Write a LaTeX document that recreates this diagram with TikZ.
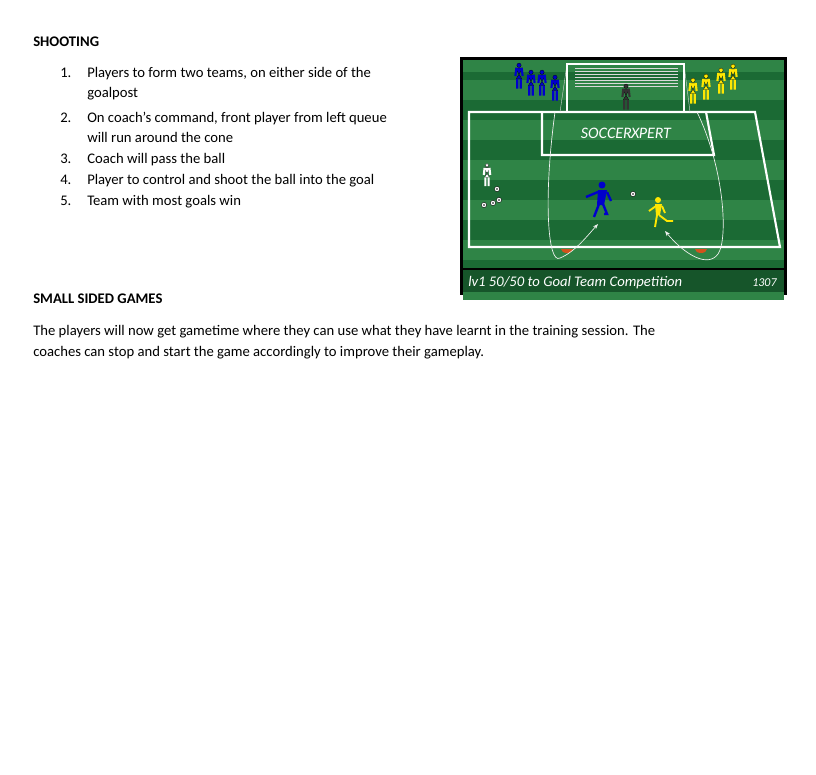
\documentclass[tikz,border=0pt]{standalone}
\usepackage{fontspec}
\setmainfont{Carlito}
\usetikzlibrary{arrows.meta}
\definecolor{gdark}{HTML}{1B6A34}
\definecolor{glight}{HTML}{2F8446}
\definecolor{cone}{HTML}{D2531C}
\newcommand{\plr}[4]{% x y color scale
\begin{scope}[shift={(#1,#2)},scale=#4]
\fill[#3,draw=black,line width=0.2pt] (0,-2) circle (2.4);
\fill[#3,draw=black,line width=0.2pt] (-4,1) -- (4,1) -- (0,8) -- (-3,13) -- (3,13) -- (0,8) -- cycle;
\draw[#3,line width=1.6pt] (-3,1) -- (-4,10) (3,1) -- (4,10) (-2,13) -- (-2,24) (2,13) -- (2,24);
\end{scope}}
\begin{document}
\begin{tikzpicture}[x=0.75pt,y=-0.75pt,
  txt/.style={anchor=base west,inner sep=0,font=\fontsize{11}{13}\selectfont},
  captxt/.style={anchor=base west,inner sep=0,text=white,font=\itshape\fontsize{11}{13}\selectfont},
  line/.style={white,line width=1.6pt},
  run/.style={white!90!gray,line width=0.5pt,-{Stealth[length=4pt]}}]
\useasboundingbox[fill=white] (0,0) rectangle (816,774);
\node[txt,font=\bfseries\fontsize{11}{13}\selectfont] (t0) at (33,46) {SHOOTING};
\foreach \n/\y/\s in {1/77/{Players to form two teams, on either side of the},0/97/{goalpost},2/122/{On coach’s command, front player from left queue},0/142/{will run around the cone},3/163/{Coach will pass the ball},4/184/{Player to control and shoot the ball into the goal},5/205/{Team with most goals win}}{
  \ifnum\n>0 \node[txt] (n\n) at (60,\y) {\n.};\fi
  \node[txt] (l\y) at (87,\y) {\s};}
\node[txt,font=\bfseries\fontsize{11}{13}\selectfont] (t1) at (33,303) {SMALL SIDED GAMES};
\node[txt] (p1) at (33,335) {The players will now get gametime where they can use what they have learnt in the training session. The};
\node[txt] (p2) at (33,356) {coaches can stop and start the game accordingly to improve their gameplay.};
% field
\fill[black] (460,57) rectangle (787,295);
\fill[gdark] (463,60) rectangle (784,292);
\foreach \y in {60,100,140,180,220,260}{\fill[glight] (463,\y+20) rectangle (784,\y+40);}
\fill[glight] (463,60) rectangle (784,72);
\fill[black] (463,268) rectangle (784,292);
\fill[gdark!80!black] (463,270) rectangle (784,292);
\draw[line] (469,112) -- (755,112) -- (780,247) -- (469,247) -- cycle;
\draw[line] (542,112) -- (542,155) -- (714,155) -- (706,112);
% goal
\foreach \i in {0,...,6}{\draw[white!70!gray,line width=0.3pt] (575,68+\i*3) -- (678,68+\i*3);}
\draw[white!70!gray,line width=0.3pt] (567,64) -- (560,112) (684,64) -- (690,112);
\draw[line] (567,113) -- (567,64) -- (684,64) -- (684,113);
\node[text=white,inner sep=0,font=\itshape\fontsize{12}{13}\selectfont] (logo) at (626,133) {SOCCER\hspace{-0.5pt}X\hspace{-0.5pt}PERT};
% cones
\fill[cone] (561,249) arc (180:0:6 and 4) -- cycle;
\fill[cone] (695,249) arc (180:0:6 and 4) -- cycle;
% runs
\coordinate (a0) at (555,112); \coordinate (a1) at (598,224);
\draw[run] (a0) .. controls (543,200) and (548,265) .. (560,258) .. controls (575,252) and (588,235) .. (a1);
\coordinate (b0) at (697,112); \coordinate (b1) at (665,231);
\draw[run] (b0) .. controls (725,170) and (728,240) .. (718,254) .. controls (708,268) and (685,255) .. (b1);
% players
\foreach \x/\y in {519/67, 531/74, 542/74, 555/79}{\plr{\x}{\y}{blue!80!black}{0.9}}
\foreach \x/\y in {693/82, 706/78, 721/72, 733/68}{\plr{\x}{\y}{yellow!90!orange}{0.9}}
\plr{626}{88}{black!80}{0.9}
\plr{487}{167}{white}{0.8}
\begin{scope}[blue!80!black]
\fill (602,185) circle (3.5);
\fill (598,190) -- (607,190) -- (604,205) -- (597,205) -- cycle;
\draw[line width=1.8pt] (598,192) -- (586,197) (607,192) -- (611,201) (599,204) -- (594,217) (603,204) -- (607,214) -- (604,214);
\end{scope}
\begin{scope}[yellow!90!orange]
\fill (658,200) circle (3);
\fill (655,204) -- (662,204) -- (660,215) -- (656,215) -- cycle;
\draw[line width=1.4pt] (656,206) -- (649,211) (662,206) -- (665,213) (657,215) -- (655,227) (659,215) -- (667,221) -- (673,221);
\end{scope}
\foreach \x/\y [count=\i] in {497/189, 484/205, 493/203, 499/200, 633/194}{
  \fill[white,draw=black,line width=0.3pt] (\x,\y) coordinate (ball\i) circle (2.6);
  \fill[black] (\x,\y) circle (0.9);}
\node[captxt] (c1) at (468,286) {lv1 50/50 to Goal Team Competition};
\node[captxt,font=\itshape\fontsize{9}{10}\selectfont] (c2) at (752,286) {1307};
\end{tikzpicture}
\end{document}
